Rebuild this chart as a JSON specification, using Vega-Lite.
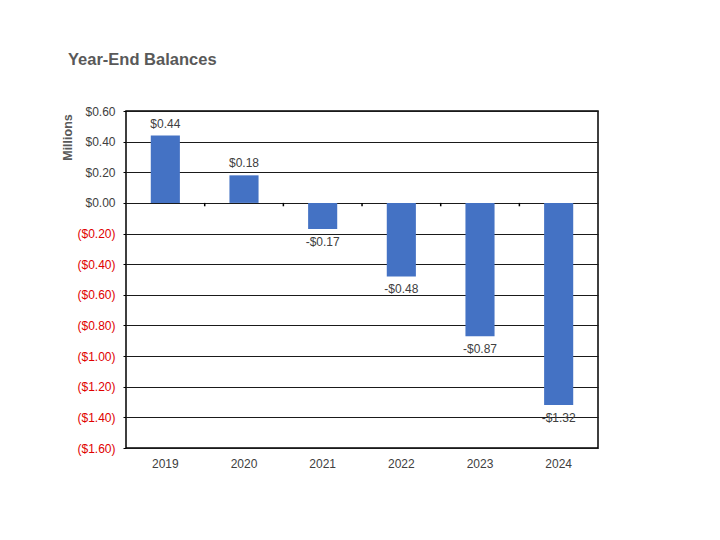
{
  "$schema": "https://vega.github.io/schema/vega-lite/v6.json",
  "autosize": {"type": "none"},
  "width": 472,
  "height": 337,
  "padding": {"left": 126, "top": 111, "right": 122, "bottom": 92},
  "background": "white",
  "title": {
    "text": "Year-End Balances",
    "anchor": "start",
    "frame": "group",
    "dx": -58,
    "offset": 37,
    "font": "Liberation Sans",
    "fontSize": 16.5,
    "fontWeight": "bold",
    "color": "#595959"
  },
  "data": {
    "values": [
      {"year": "2019", "value": 0.44, "label": "$0.44"},
      {"year": "2020", "value": 0.18, "label": "$0.18"},
      {"year": "2021", "value": -0.17, "label": "-$0.17"},
      {"year": "2022", "value": -0.48, "label": "-$0.48"},
      {"year": "2023", "value": -0.87, "label": "-$0.87"},
      {"year": "2024", "value": -1.32, "label": "-$1.32"}
    ]
  },
  "encoding": {
    "x": {
      "field": "year",
      "type": "nominal",
      "scale": {"paddingInner": 0.63, "paddingOuter": 0.315},
      "axis": {
        "title": null,
        "labelAngle": 0,
        "domain": false,
        "ticks": false,
        "labelPadding": 10,
        "labelFont": "Liberation Sans",
        "labelFontSize": 12,
        "labelColor": "#404040"
      }
    },
    "y": {
      "field": "value",
      "type": "quantitative",
      "scale": {"domain": [-1.6, 0.6], "nice": false},
      "axis": {
        "title": "Millions",
        "titleX": -59,
        "titleY": 26,
        "titleAngle": -90,
        "titleAlign": "center",
        "titleBaseline": "middle",
        "titleFont": "Liberation Sans",
        "titleFontSize": 12.5,
        "titleFontWeight": "bold",
        "titleColor": "#595959",
        "values": [-1.6, -1.4, -1.2, -1.0, -0.8, -0.6, -0.4, -0.2, 0, 0.2, 0.4, 0.6],
        "labelExpr": "datum.value < -0.0001 ? '($' + format(-datum.value, '.2f') + ')' : '$' + format(abs(datum.value), '.2f')",
        "labelColor": {"condition": {"test": "datum.value < -0.0001", "value": "#e00000"}, "value": "#404040"},
        "labelFont": "Liberation Sans",
        "labelFontSize": 12,
        "labelPadding": 8,
        "tickSize": 3,
        "tickColor": "#000000",
        "domain": false,
        "grid": true,
        "gridColor": "#1a1a1a",
        "gridWidth": 1
      }
    }
  },
  "layer": [
    {
      "mark": {"type": "bar", "color": "#4472C4"}
    },
    {
      "transform": [{"filter": "datum.year != '2019'"}],
      "mark": {"type": "rule", "color": "#000000", "strokeWidth": 1.5},
      "encoding": {
        "x": {"field": "year", "type": "nominal", "bandPosition": -0.85},
        "y": {"datum": 0},
        "y2": {"datum": -0.022}
      }
    },
    {
      "transform": [{"filter": "datum.value >= 0"}],
      "mark": {"type": "text", "baseline": "middle", "dy": -12, "font": "Liberation Sans", "fontSize": 12, "color": "#404040"},
      "encoding": {"text": {"field": "label"}}
    },
    {
      "transform": [{"filter": "datum.value < 0"}],
      "mark": {"type": "text", "baseline": "middle", "dy": 13, "font": "Liberation Sans", "fontSize": 12, "color": "#404040"},
      "encoding": {"text": {"field": "label"}}
    }
  ],
  "config": {
    "view": {"stroke": "#000000", "strokeWidth": 1.5}
  }
}
